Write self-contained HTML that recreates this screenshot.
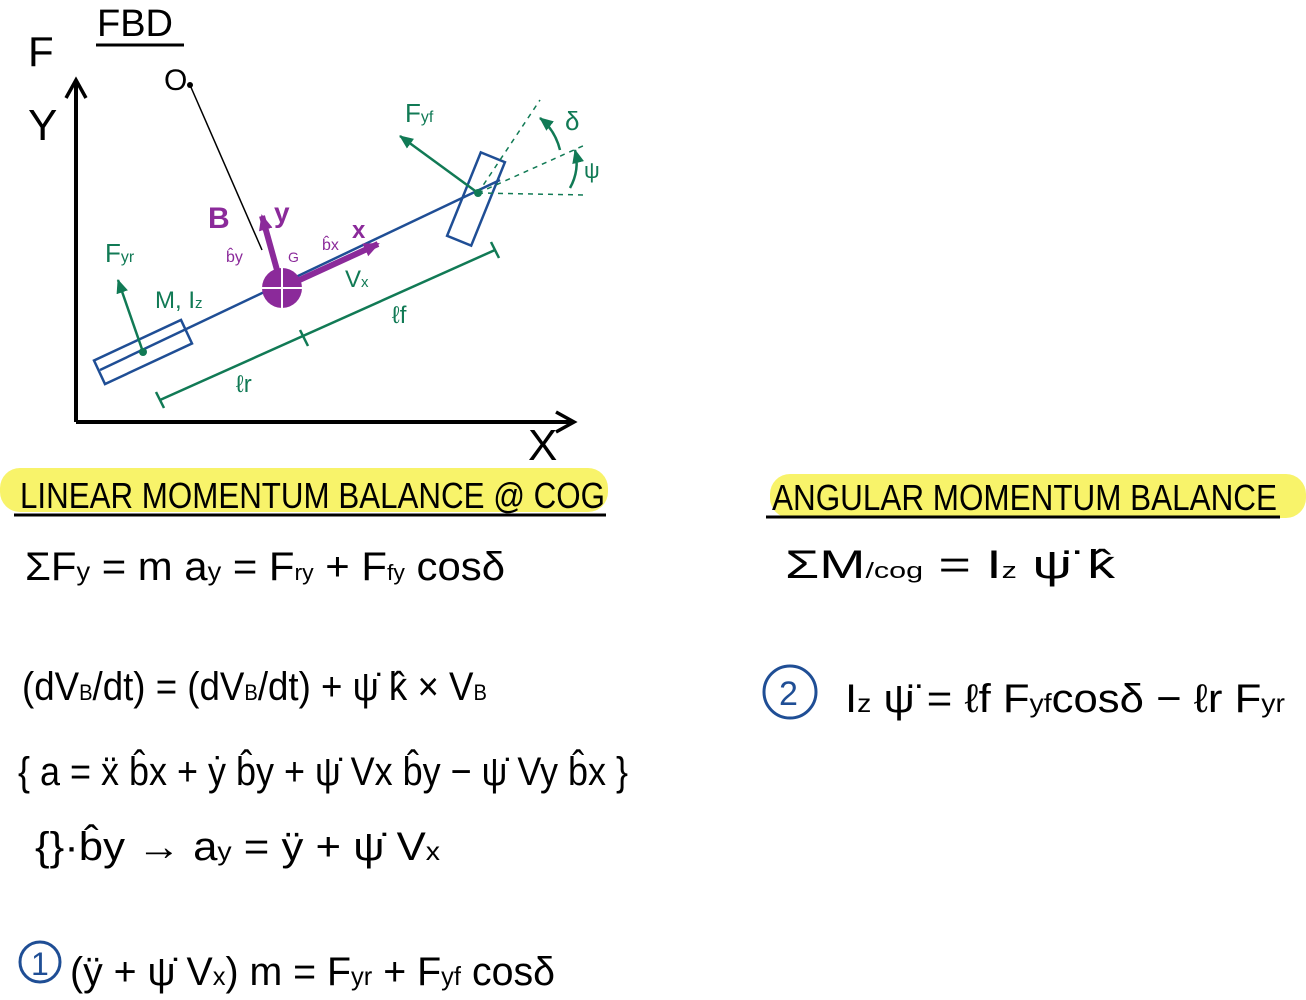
<!DOCTYPE html>
<html><head><meta charset="utf-8"><style>
html,body{margin:0;padding:0;background:#fff;}
svg{display:block;}
text{font-family:"Liberation Sans",sans-serif;}
.hw{font-family:"Liberation Sans",sans-serif;fill:#000;}
</style></head><body>
<svg width="1306" height="1000" viewBox="0 0 1306 1000">
<defs>
<marker id="ak" markerUnits="userSpaceOnUse" markerWidth="24" markerHeight="24" refX="20" refY="12" orient="auto"><path d="M2,2 L20,12 L2,22" fill="none" stroke="#000" stroke-width="3.5"/></marker>
<marker id="ag" markerUnits="userSpaceOnUse" markerWidth="16" markerHeight="16" refX="13" refY="8" orient="auto"><path d="M0,2 L14,8 L0,14 z" fill="#117a55"/></marker>
<marker id="ap" markerUnits="userSpaceOnUse" markerWidth="18" markerHeight="18" refX="14" refY="9" orient="auto"><path d="M0,2 L16,9 L0,16 z" fill="#8b2a9a"/></marker>
</defs>
<g stroke="#000" stroke-width="4" fill="none">
<line x1="76" y1="422" x2="76" y2="80" marker-end="url(#ak)"/>
<line x1="76" y1="422" x2="574" y2="422" marker-end="url(#ak)"/>
</g>
<text x="28" y="66" font-size="42" class="hw">F</text>
<text x="28" y="140" font-size="44" class="hw">Y</text>
<text x="528" y="460" font-size="44" class="hw">X</text>
<text x="97" y="36" font-size="38" class="hw">FBD</text>
<line x1="96" y1="45" x2="184" y2="45" stroke="#000" stroke-width="3"/>
<text x="164" y="90" font-size="30" class="hw">O</text>
<circle cx="190" cy="85" r="3" fill="#000"/>
<line x1="190" y1="85" x2="262" y2="250" stroke="#000" stroke-width="1.5"/>
<g stroke="#1f4e95" stroke-width="2.5" fill="none">
<line x1="100" y1="370" x2="500" y2="180"/>
<rect x="-48" y="-13" width="96" height="26" transform="translate(143,352) rotate(-25)"/>
<rect x="-45" y="-13" width="90" height="26" transform="translate(476,199) rotate(-68)"/>
</g>
<circle cx="143" cy="352" r="4" fill="#117a55"/>
<circle cx="478" cy="193" r="4" fill="#117a55"/>
<g stroke="#117a55" stroke-width="2.5" fill="none">
<line x1="160" y1="400" x2="495" y2="250"/>
<line x1="156" y1="392" x2="164" y2="408"/><line x1="300" y1="330" x2="308" y2="346"/><line x1="491" y1="242" x2="499" y2="258"/>
<line x1="143" y1="352" x2="118" y2="280" marker-end="url(#ag)"/>
<line x1="478" y1="193" x2="400" y2="136" marker-end="url(#ag)"/>
<line x1="478" y1="193" x2="540" y2="100" stroke-dasharray="5,5" stroke-width="1.5"/>
<line x1="478" y1="193" x2="585" y2="145" stroke-dasharray="5,5" stroke-width="1.5"/>
<line x1="478" y1="193" x2="585" y2="195" stroke-dasharray="5,5" stroke-width="1.5"/>
<path d="M560,150 Q555,130 540,118" marker-end="url(#ag)"/>
<path d="M570,188 Q580,170 575,150" marker-end="url(#ag)"/>
</g>
<g fill="#117a55" font-size="26">
<text x="105" y="262">F<tspan font-size="16">yr</tspan></text>
<text x="405" y="122">F<tspan font-size="16">yf</tspan></text>
<text x="565" y="130">δ</text><text x="584" y="178" font-size="22">ψ</text>
<text x="155" y="308" font-size="24">M, I<tspan font-size="15">z</tspan></text>
<text x="236" y="392" font-size="24">ℓr</text>
<text x="392" y="323" font-size="24">ℓf</text>
<text x="345" y="287" font-size="24">V<tspan font-size="15">x</tspan></text>
</g>
<g>
<line x1="282" y1="288" x2="262" y2="216" stroke="#8b2a9a" stroke-width="6" marker-end="url(#ap)"/>
<line x1="282" y1="288" x2="378" y2="244" stroke="#8b2a9a" stroke-width="6" marker-end="url(#ap)"/>
<circle cx="282" cy="288" r="20" fill="#8b2a9a"/>
<path d="M282,268 v40 M262,288 h40" stroke="#fff" stroke-width="2"/>
<g fill="#8b2a9a"><text x="208" y="228" font-size="30" font-weight="bold">B</text><text x="274" y="222" font-size="28" font-weight="bold">y</text>
<text x="352" y="238" font-size="24" font-weight="bold">x</text><text x="226" y="262" font-size="16">b̂y</text><text x="322" y="250" font-size="16">b̂x</text><text x="288" y="262" font-size="14">G</text></g>
</g>
<rect x="0" y="468" width="608" height="44" rx="20" fill="#f8f36a"/>
<rect x="770" y="474" width="536" height="44" rx="20" fill="#f8f36a"/>
<text x="20" y="508" font-size="36" class="hw" textLength="585" lengthAdjust="spacingAndGlyphs">LINEAR MOMENTUM BALANCE @ COG</text>
<line x1="14" y1="515" x2="606" y2="515" stroke="#000" stroke-width="3"/>
<text x="772" y="510" font-size="36" class="hw" textLength="505" lengthAdjust="spacingAndGlyphs">ANGULAR MOMENTUM BALANCE</text>
<line x1="766" y1="517" x2="1280" y2="517" stroke="#000" stroke-width="3"/>
<g class="hw" font-size="40">
<text x="25" y="580" textLength="480" lengthAdjust="spacingAndGlyphs">ΣF<tspan font-size="26">y</tspan> = m a<tspan font-size="26">y</tspan> = F<tspan font-size="22">ry</tspan> + F<tspan font-size="22">fy</tspan> cosδ</text>
<text x="785" y="578" textLength="330" lengthAdjust="spacingAndGlyphs">ΣM<tspan font-size="22">/cog</tspan> = I<tspan font-size="22">z</tspan> ψ̈ k̂</text>
<text x="22" y="700" textLength="465" lengthAdjust="spacingAndGlyphs">(dV<tspan font-size="22">B</tspan>/dt) = (dV<tspan font-size="22">B</tspan>/dt) + ψ̇ k̂ × V<tspan font-size="22">B</tspan></text>
<text x="18" y="785" textLength="610" lengthAdjust="spacingAndGlyphs">{ a = ẍ b̂x + ẏ b̂y + ψ̇ Vx b̂y − ψ̇ Vy b̂x }</text>
<text x="35" y="860" textLength="405" lengthAdjust="spacingAndGlyphs">{}·b̂y → a<tspan font-size="26">y</tspan> = ÿ + ψ̇ V<tspan font-size="26">x</tspan></text>
<text x="70" y="985" textLength="485" lengthAdjust="spacingAndGlyphs">(ÿ + ψ̇ V<tspan font-size="26">x</tspan>) m = F<tspan font-size="26">yr</tspan> + F<tspan font-size="26">yf</tspan> cosδ</text>
<text x="845" y="712" textLength="440" lengthAdjust="spacingAndGlyphs">I<tspan font-size="26">z</tspan> ψ̈ = ℓf F<tspan font-size="26">yf</tspan>cosδ − ℓr F<tspan font-size="26">yr</tspan></text>
</g>
<g fill="none" stroke="#1f4e95" stroke-width="3">
<circle cx="40" cy="962" r="20"/><circle cx="790" cy="692" r="26"/>
</g>
<text x="31" y="975" font-size="32" fill="#1f4e95">1</text>
<text x="779" y="705" font-size="34" fill="#1f4e95">2</text>
</svg>
</body></html>
